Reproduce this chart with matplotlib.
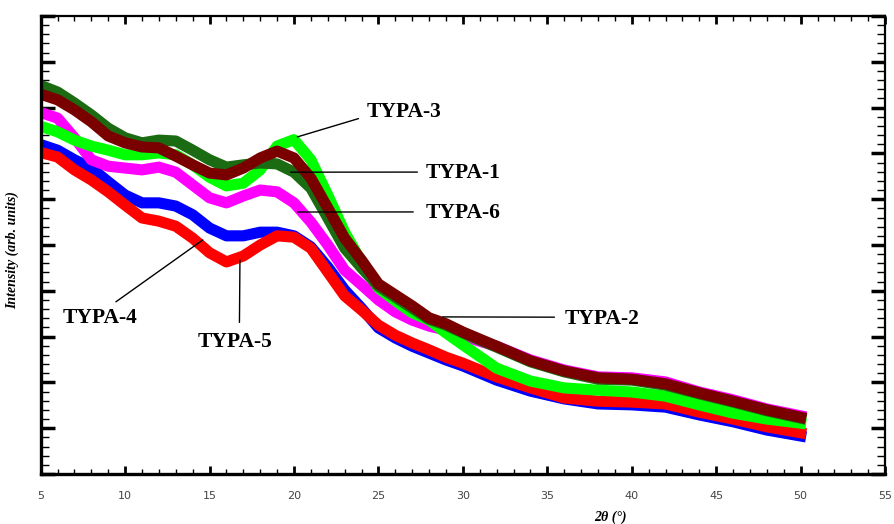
import matplotlib.pyplot as plt
from matplotlib.ticker import MultipleLocator, NullFormatter

# 2theta grid (deg) and intensities (arb. units, 0-100)
two_theta = [5.1, 6, 7, 8, 9, 10, 11, 12, 13, 14, 15, 16, 17, 18, 19, 20, 21, 22, 23, 24, 25,
             26, 27, 28, 29, 30, 32, 34, 36, 38, 40, 42, 44, 46, 48, 50]

typa1 = [84.7, 83.4, 81.0, 78.4, 75.5, 73.4, 72.3, 72.9, 72.7, 70.7, 68.6, 67.0, 67.5, 67.9, 67.7,
         65.9, 62.4, 55.9, 49.3, 45.0, 41.0, 38.6, 36.2, 33.8, 32.5, 30.8, 27.7, 24.5, 22.3, 20.7,
         20.5, 19.4, 17.5, 15.7, 13.8, 12.2]
typa2 = [82.8, 81.7, 79.5, 76.9, 73.8, 72.3, 71.4, 71.2, 69.4, 67.5, 65.7, 65.3, 66.8, 69.0, 70.5,
         69.0, 64.6, 58.1, 51.5, 46.7, 41.5, 39.1, 36.7, 34.1, 32.8, 31.0, 27.9, 24.7, 22.5, 21.0,
         20.7, 19.7, 17.7, 15.9, 14.0, 12.4]
typa3 = [75.8, 74.7, 72.9, 71.6, 70.7, 69.7, 69.7, 70.1, 69.7, 67.5, 64.8, 62.9, 63.5, 66.4, 71.6,
         73.0, 68.6, 60.9, 52.8, 46.3, 40.6, 37.8, 35.2, 33.6, 30.8, 28.2, 23.1, 20.3, 18.8, 18.3,
         17.9, 17.0, 15.1, 13.3, 12.0, 11.1]
typa4 = [71.8, 70.7, 68.6, 66.8, 63.8, 60.9, 59.2, 59.2, 58.5, 56.6, 53.7, 52.0, 52.0, 52.8, 52.8,
         52.0, 49.6, 45.2, 40.2, 36.2, 31.9, 29.7, 27.9, 26.4, 24.9, 23.6, 20.5, 18.1, 16.4, 15.3,
         15.1, 14.6, 12.9, 11.4, 9.6, 8.3]
typa5 = [70.1, 69.2, 66.4, 64.2, 61.6, 58.7, 55.9, 55.2, 54.1, 51.5, 48.3, 46.3, 47.6, 50.0, 52.0,
         51.7, 49.3, 44.1, 38.9, 35.8, 32.5, 30.3, 28.6, 27.1, 25.5, 24.2, 21.2, 18.8, 16.6, 15.9,
         15.7, 15.3, 13.5, 12.0, 10.3, 9.0]
typa6 = [78.8, 77.7, 73.4, 68.6, 67.2, 66.8, 66.4, 67.0, 65.9, 63.1, 60.3, 59.2, 60.7, 62.0, 61.6,
         59.2, 55.0, 50.0, 44.5, 41.3, 38.0, 35.4, 33.6, 32.3, 31.4, 30.1, 27.9, 24.9, 22.7, 21.2,
         21.0, 20.1, 17.9, 16.2, 14.2, 12.7]

fig = plt.figure(figsize=(8.94, 5.24), dpi=100)
ax = fig.add_axes([0.0455, 0.0954, 0.9445, 0.8741])

# drawing order: blue, red, magenta, lime, dark green, brown
lw = 8
ax.plot(two_theta, typa4, color='#0000ff', lw=lw, solid_joinstyle='round')
ax.plot(two_theta, typa5, color='#ff0000', lw=lw, solid_joinstyle='round')
ax.plot(two_theta, typa6, color='#ff00ff', lw=lw, solid_joinstyle='round')
ax.plot(two_theta, typa3, color='#00ff00', lw=lw, solid_joinstyle='round')
ax.plot(two_theta, typa1, color='#1b6b12', lw=lw, solid_joinstyle='round')
ax.plot(two_theta, typa2, color='#7a0000', lw=lw, solid_joinstyle='round')

ax.set_xlim(5, 55)
ax.set_ylim(0, 100)
ax.xaxis.set_major_locator(MultipleLocator(5))
ax.xaxis.set_minor_locator(MultipleLocator(1))
ax.yaxis.set_major_locator(MultipleLocator(10))
ax.yaxis.set_minor_locator(MultipleLocator(2))
ax.yaxis.set_major_formatter(NullFormatter())

ax.tick_params(axis='x', which='both', direction='in', top=True, bottom=True,
               labelsize=8, labelcolor='#444444', pad=12)
ax.tick_params(axis='x', which='major', length=6, width=2)
ax.tick_params(axis='x', which='minor', length=3.5, width=1)
ax.tick_params(axis='y', which='both', direction='in', left=True, right=True)
ax.tick_params(axis='y', which='major', length=10, width=2.5)
ax.tick_params(axis='y', which='minor', length=6, width=1)
for side in ['left', 'bottom']:
    ax.spines[side].set_linewidth(2.4)
for side in ['top', 'right']:
    ax.spines[side].set_linewidth(1.6)

lab_font = dict(family='Liberation Serif', weight='bold', style='italic', size=10)
ax.set_xlabel('2θ (°)', **lab_font)
ax.xaxis.set_label_coords(0.675, -0.08)
ax.set_ylabel('Intensity (arb. units)', **lab_font)
ax.yaxis.set_label_coords(-0.026, 0.49)

# curve labels with leader lines
txt = dict(family='Liberation Serif', weight='bold', size=15.5, color='black')
arrow = dict(arrowstyle='-', color='black', lw=1, shrinkB=0)
ax.annotate('TYPA-3', xy=(20.2, 73.6), xytext=(24.3, 79.0), ha='left', va='center',
            arrowprops=dict(arrow, relpos=(0, 0.3), shrinkA=4), **txt)
ax.annotate('TYPA-1', xy=(19.8, 65.9), xytext=(27.8, 65.7), ha='left', va='center',
            arrowprops=dict(arrow, relpos=(0, 0.55), shrinkA=4), **txt)
ax.annotate('TYPA-6', xy=(20.2, 57.2), xytext=(27.8, 57.0), ha='left', va='center',
            arrowprops=dict(arrow, relpos=(0, 0.55), shrinkA=7), **txt)
ax.annotate('TYPA-2', xy=(28.8, 34.3), xytext=(36.0, 33.8), ha='left', va='center',
            arrowprops=dict(arrow, relpos=(0, 0.6), shrinkA=5), **txt)
ax.annotate('TYPA-4', xy=(14.6, 51.1), xytext=(6.3, 34.1), ha='left', va='center',
            arrowprops=dict(arrow, relpos=(0.6, 1.0), shrinkA=4), **txt)
ax.annotate('TYPA-5', xy=(16.8, 46.7), xytext=(16.5, 28.8), ha='center', va='center',
            arrowprops=dict(arrow, relpos=(0.56, 1.0), shrinkA=5), **txt)

fig.savefig('out.png', dpi=100)
